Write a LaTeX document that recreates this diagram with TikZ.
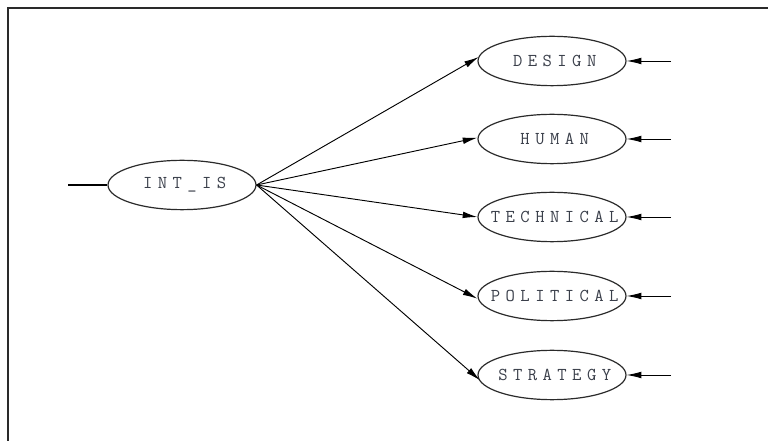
\documentclass[tikz,border=0pt]{standalone}
\usepackage{fontspec}
\usetikzlibrary{shapes.geometric,arrows.meta}
\newfontfamily\diagmono[LetterSpace=30]{Latin Modern Mono}
\definecolor{inkgray}{HTML}{2A2A2A}
\definecolor{txtgray}{HTML}{3A3F4A}
\tikzset{
  entity/.style={ellipse, draw=inkgray, line width=0.9pt, inner sep=0pt,
    minimum width=111pt, minimum height=37pt,
    font=\diagmono\fontsize{13.6pt}{14pt}\selectfont, text=txtgray},
  link/.style={draw=black, line width=0.7pt,
    -{Latex[length=11pt, width=5pt]}, shorten >=0pt},
  plain/.style={draw=black, line width=0.9pt},
  frameline/.style={draw=inkgray, line width=1.5pt}
}
\newcommand{\lbl}[1]{\makebox[0pt]{\kern0.3em#1}}
\begin{document}
\begin{tikzpicture}[x=0.75pt,y=-0.75pt]
\useasboundingbox (0,0) rectangle (768,441);
\draw[frameline] (7.5,441) -- (7.5,8) -- (768,8);

\node[entity] (int) at (182,185) {\lbl{INT\_IS}};
\node[entity] (des) at (552,61) {\lbl{DESIGN}};
\node[entity] (hum) at (552,139) {\lbl{HUMAN}};
\node[entity] (tec) at (552,217) {\lbl{TECHNICAL}};
\node[entity] (pol) at (552,296) {\lbl{POLITICAL}};
\node[entity] (str) at (552,375) {\lbl{STRATEGY}};

\coordinate (inL) at (68,185);
\coordinate (rd) at (671,61);
\coordinate (rh) at (671,139);
\coordinate (rt) at (671,217);
\coordinate (rp) at (671,296);
\coordinate (rs) at (671,375);

\draw[plain] (inL) -- (int.west);

\draw[link] (int.east) -- ([xshift=1pt,yshift=3pt]des.west);
\draw[link] (int.east) -- ([xshift=0pt,yshift=1pt]hum.west);
\draw[link] (int.east) -- (tec.west);
\draw[link] (int.east) -- ([xshift=0pt,yshift=-2pt]pol.west);
\draw[link] (int.east) -- ([xshift=2pt,yshift=-4pt]str.west);

\draw[link] (rd) -- (des.east);
\draw[link] (rh) -- (hum.east);
\draw[link] (rt) -- (tec.east);
\draw[link] (rp) -- (pol.east);
\draw[link] (rs) -- (str.east);
\end{tikzpicture}
\end{document}
